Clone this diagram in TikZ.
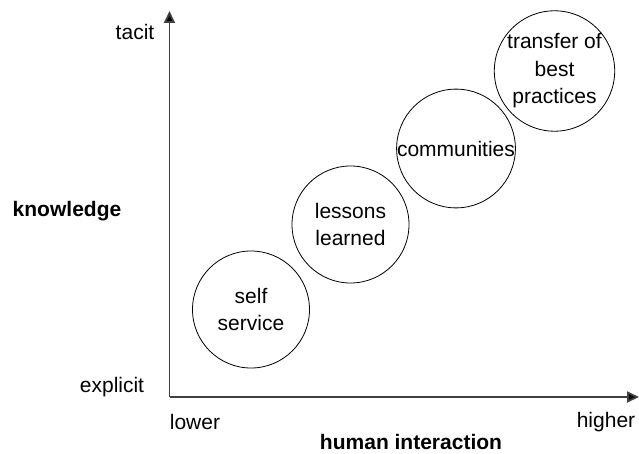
\documentclass[tikz,border=0pt]{standalone}
\usepackage{fontspec}
\setmainfont{Liberation Sans}
\usetikzlibrary{arrows.meta}
\begin{document}
\begin{tikzpicture}[x=1pt,y=-1pt,
  lbl/.style={font=\fontsize{21}{28}\selectfont, inner sep=0pt},
  boldlbl/.style={font=\fontsize{21}{28}\selectfont\bfseries, inner sep=0pt},
  bubble/.style={circle, draw=black, line width=0.8pt, minimum size=#1, inner sep=0pt, align=center, font=\fontsize{21}{27.5}\selectfont},
  axis/.style={line width=1.8pt, draw=black!75, -{Triangle[length=12pt,width=11pt,fill=black]}}]
\useasboundingbox (0,0) rectangle (639,454);
\coordinate (O) at (169.5,397);
\coordinate (Ytop) at (169.5,11);
\coordinate (Xend) at (639,397);
\draw[axis] (O) -- (Ytop);
\draw[axis] (O) -- (Xend);
\node[lbl] (tacit) at (135,32) {tacit};
\node[lbl] (explicit) at (112,387) {explicit};
\node[boldlbl] (knowledge) at (67,211) {knowledge};
\node[lbl] (lower) at (195,422) {lower};
\node[lbl] (higher) at (606,422) {higher};
\node[boldlbl] (hi) at (411,442) {human interaction};
\node[bubble=117pt] (ss) at (251,309.5) {self\\service};
\node[bubble=117pt] (ll) at (350.5,224.5) {lessons\\learned};
\node[bubble=118pt] (co) at (456,148.5) {communities};
\node[bubble=117pt] (tb) at (554.5,71) {transfer of\\best\\practices};
\end{tikzpicture}
\end{document}
